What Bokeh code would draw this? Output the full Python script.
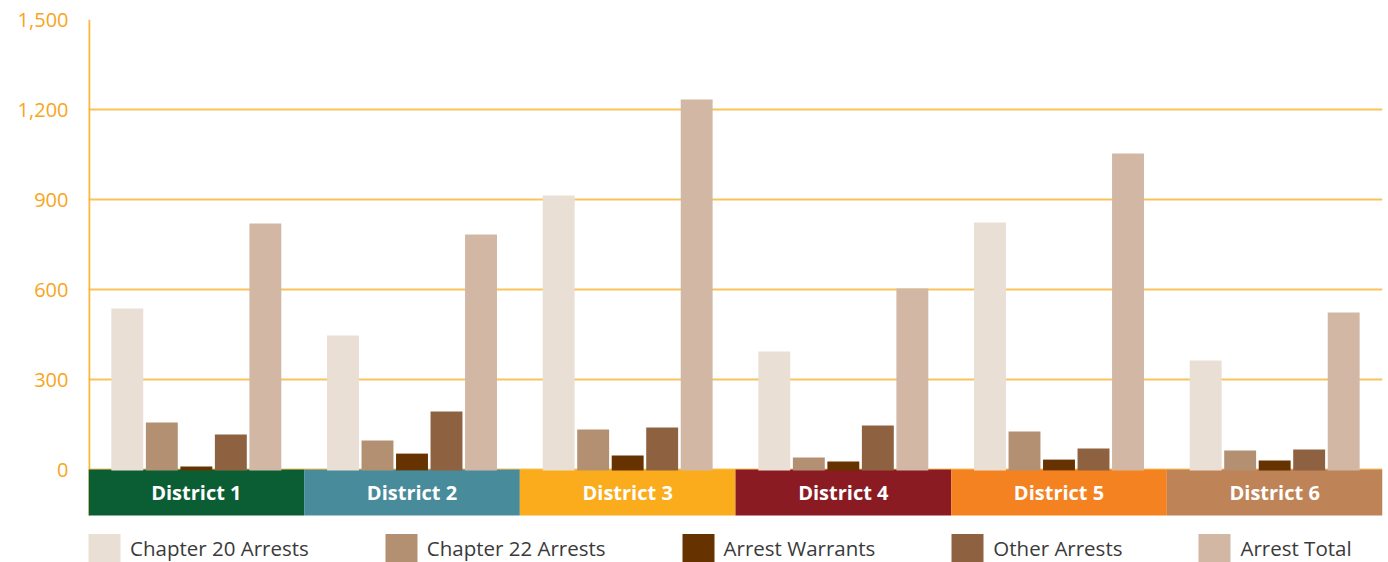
from bokeh.plotting import figure
from bokeh.models import FactorRange, Range1d, Legend, LegendItem, FixedTicker, NumeralTickFormatter, ColumnDataSource
from bokeh.transform import dodge
from bokeh.core.properties import value
from bokeh.embed import file_html
from bokeh.resources import INLINE

districts = ["District 1", "District 2", "District 3", "District 4", "District 5", "District 6"]
district_colors = ["#0B5E34", "#488B9A", "#FAAC1C", "#8B1B22", "#F58220", "#BF8358"]

series_names = ["Chapter 20 Arrests", "Chapter 22 Arrests", "Arrest Warrants", "Other Arrests", "Arrest Total"]
series_colors = ["#EADFD4", "#B39072", "#663300", "#8E6240", "#D2B7A5"]

chapter20 = [537, 447, 913, 393, 823, 363]
chapter22 = [157, 97, 133, 40, 127, 63]
warrants = [10, 53, 47, 27, 33, 30]
other = [117, 193, 140, 147, 70, 67]
total = [820, 783, 1233, 603, 1053, 523]

y_ticks = [0, 300, 600, 900, 1200, 1500]

FONT = "Open Sans"
ORANGE = "#F9A51B"
BAND = 153.3          # depth of the district band below zero (data units)
BOTTOM = -310.0       # lower end of the frame, leaves room for the legend

p = figure(width=1388, height=562, output_backend="svg", toolbar_location=None,
           x_range=FactorRange(*districts, range_padding=0),
           y_range=Range1d(BOTTOM, 1500),
           min_border_left=88, min_border_right=6, min_border_top=19, min_border_bottom=0)
p.outline_line_color = None
p.background_fill_color = "white"
p.border_fill_color = "white"

p.xaxis.visible = False
p.xgrid.grid_line_color = None
p.ygrid.grid_line_color = "#F9C35C"
p.ygrid.grid_line_width = 1.8
p.yaxis.ticker = FixedTicker(ticks=y_ticks)
p.ygrid.ticker = FixedTicker(ticks=y_ticks)
p.yaxis.formatter = NumeralTickFormatter(format="0,0")
p.yaxis.axis_line_color = None
p.yaxis.major_tick_line_color = None
p.yaxis.minor_tick_line_color = None
p.yaxis.major_label_standoff = 14
p.yaxis.major_label_text_color = ORANGE
p.yaxis.major_label_text_font = FONT
p.yaxis.major_label_text_font_size = "20px"
p.yaxis.major_label_text_font_style = "normal"

# vertical axis line, from the bottom of the district band to the top
p.segment(x0=dodge("x", -0.5, range=p.x_range), x1=dodge("x", -0.5, range=p.x_range),
          y0=-BAND, y1=1500, source=ColumnDataSource(dict(x=districts[:1])),
          line_color="#F9B740", line_width=3.6)

# district bands
band_src = ColumnDataSource(dict(x=districts, c=district_colors))
p.vbar(x="x", top=0, bottom=-BAND, width=1.0, fill_color="c", line_color=None, source=band_src)
p.text(x="x", y=-BAND / 2, text="x", source=band_src, text_align="center", text_baseline="middle",
       text_color="white", text_font=value(FONT), text_font_style="bold", text_font_size="20px")

src = ColumnDataSource(dict(x=districts, s0=chapter20, s1=chapter22, s2=warrants, s3=other, s4=total))
offsets = [-0.32, -0.16, 0.0, 0.16, 0.32]
items = []
for i, (name, col) in enumerate(zip(series_names, series_colors)):
    r = p.vbar(x=dodge("x", offsets[i], range=p.x_range), top="s%d" % i, bottom=-3, width=0.148,
               fill_color=col, line_color=None, source=src)
    items.append(LegendItem(label=name, renderers=[r]))

legend = Legend(items=items, orientation="horizontal", location=(-4, -4),
                glyph_width=40, glyph_height=36, label_standoff=6, spacing=72,
                padding=0, margin=0, border_line_color=None, background_fill_alpha=0,
                label_text_font=FONT, label_text_font_size="20.5px", label_text_color="#3A3A3A")
p.add_layout(legend, "center")

open("out.html", "w").write(file_html(p, INLINE))
